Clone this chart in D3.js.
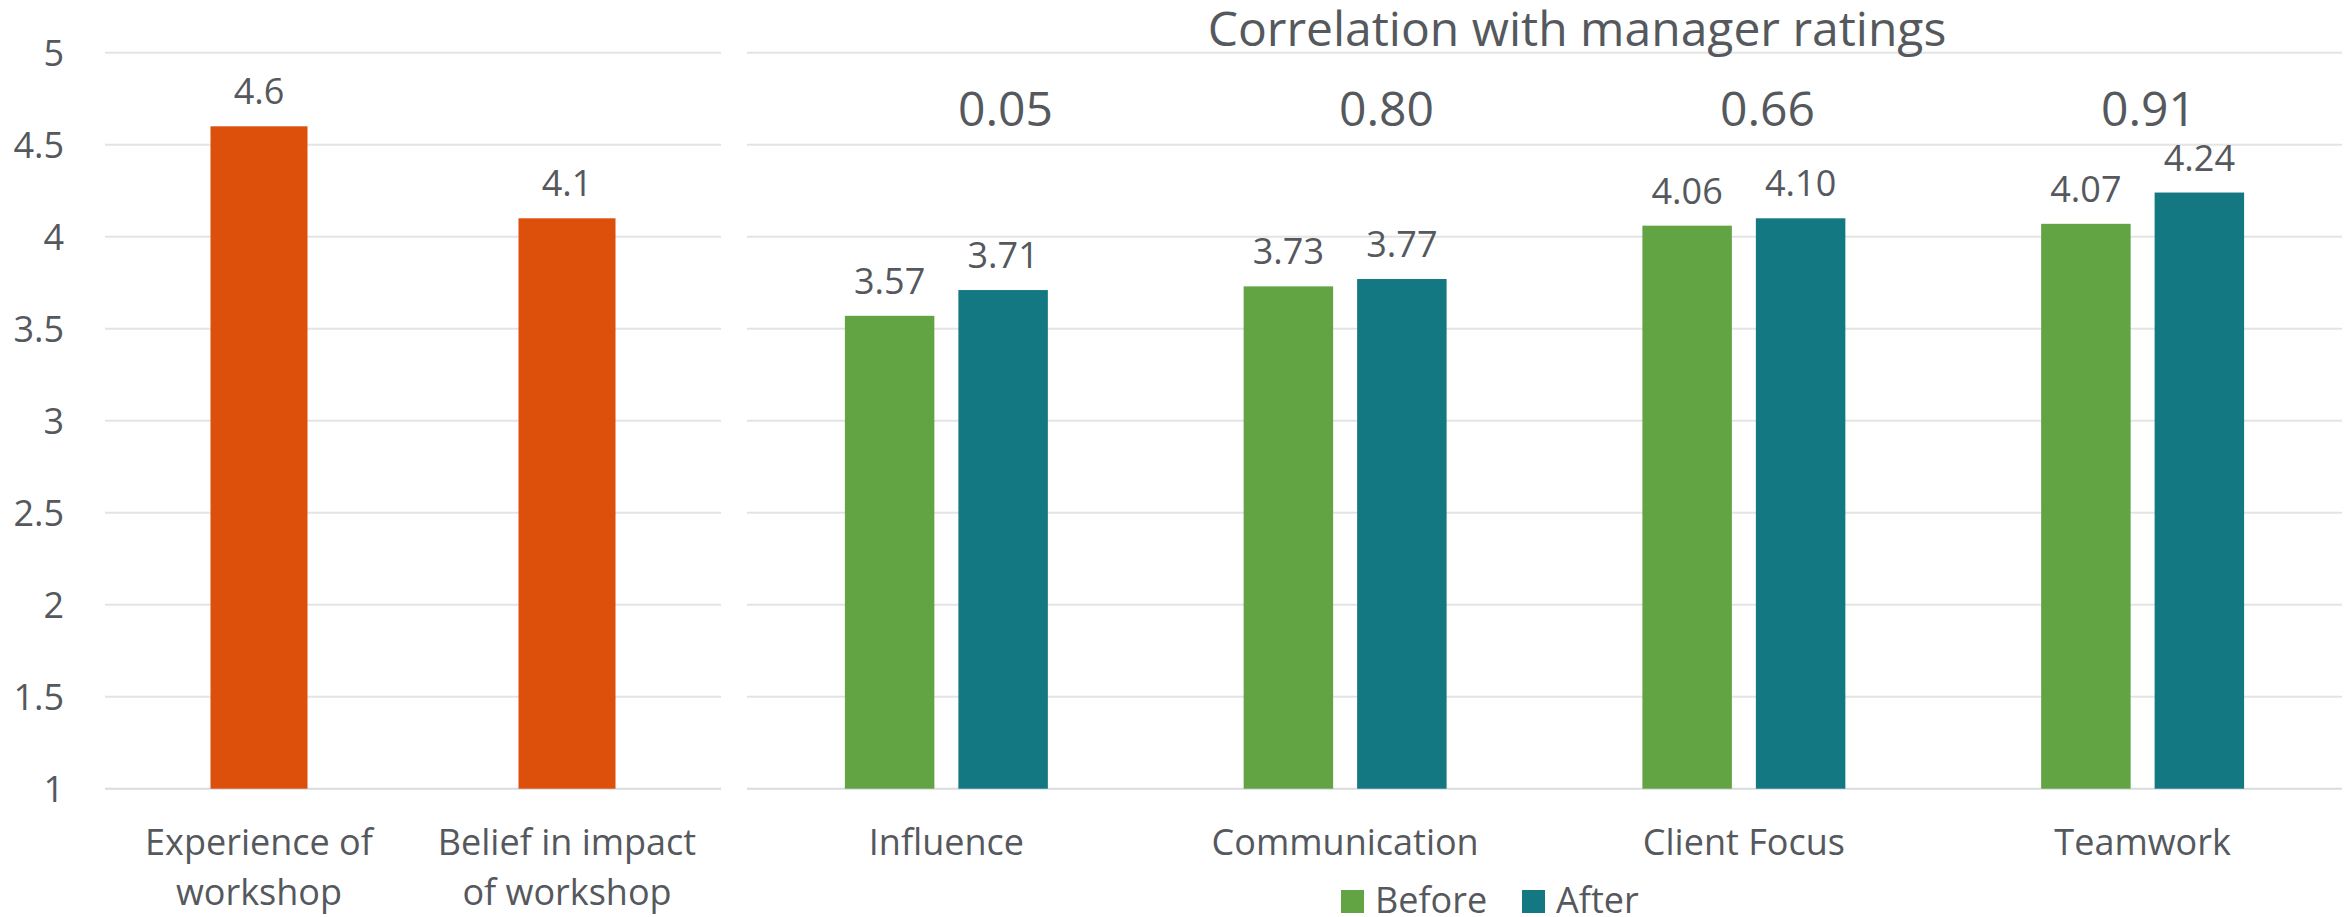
<!DOCTYPE html>
<html>
<head>
<meta charset="utf-8">
<script src="https://cdn.jsdelivr.net/npm/d3@7"></script>
<style>
  html, body { margin: 0; padding: 0; background: #ffffff; }
  svg { display: block; }
  text { font-family: "Open Sans", "Noto Sans", sans-serif; fill: #55585d; }
</style>
</head>
<body>
<svg id="chart" width="2351" height="917"></svg>
<script>
// Workshop feedback (left panel)
const workshopCategories = [["Experience of", "workshop"], ["Belief in impact", "of workshop"]];
const workshopValues = [4.6, 4.1];

// Competency ratings before / after (right panel)
const skillCategories = ["Influence", "Communication", "Client Focus", "Teamwork"];
const seriesNames = ["Before", "After"];
const beforeValues = [3.57, 3.73, 4.06, 4.07];
const afterValues = [3.71, 3.77, 4.10, 4.24];
const correlations = [0.05, 0.80, 0.66, 0.91];
const correlationTitle = "Correlation with manager ratings";

// Axis ticks
const yTicks = [1, 1.5, 2, 2.5, 3, 3.5, 4, 4.5, 5];

const colors = { workshop: "#dd500c", Before: "#62a443", After: "#137882" };

const svg = d3.select("#chart");

const y = d3.scaleLinear().domain([1, 5]).range([788.7, 52.7]);

const leftRange = [105, 721];
const rightRange = [747, 2342];

// Gridlines for each panel
const grid = svg.append("g");
[leftRange, rightRange].forEach(r => {
  grid.selectAll(null).data(yTicks).enter().append("line")
    .attr("x1", r[0]).attr("x2", r[1])
    .attr("y1", d => y(d)).attr("y2", d => y(d))
    .attr("stroke", d => d === 1 ? "#d9dbdc" : "#e4e4e4")
    .attr("stroke-width", 2);
});

// Y axis labels
const yAxis = d3.axisLeft(y).tickValues(yTicks).tickSize(0).tickPadding(0).tickFormat(d => String(d));
const yAxisG = svg.append("g").attr("transform", "translate(64,0)").call(yAxis);
yAxisG.select(".domain").remove();
yAxisG.selectAll("text")
  .attr("font-size", 36).attr("font-family", "Open Sans")
  .attr("fill", "#55585d").attr("dy", "0.35em");

// Left panel bars
const xLeft = d3.scaleBand().domain(d3.range(workshopValues.length)).range(leftRange).padding(0);
const leftBarW = xLeft.bandwidth() * 0.315;
const leftG = svg.append("g");
leftG.selectAll("rect").data(workshopValues).enter().append("rect")
  .attr("x", (d, i) => xLeft(i) + xLeft.bandwidth() / 2 - leftBarW / 2)
  .attr("y", d => y(d))
  .attr("width", leftBarW)
  .attr("height", d => y(1) - y(d))
  .attr("fill", colors.workshop);
leftG.selectAll("text.val").data(workshopValues).enter().append("text")
  .attr("class", "val")
  .attr("x", (d, i) => xLeft(i) + xLeft.bandwidth() / 2)
  .attr("y", d => y(d) - 22)
  .attr("text-anchor", "middle").attr("font-size", 36)
  .text(d => d3.format(".1f")(d));
workshopCategories.forEach((lines, i) => {
  const t = leftG.append("text")
    .attr("text-anchor", "middle").attr("font-size", 36)
    .attr("x", xLeft(i) + xLeft.bandwidth() / 2).attr("y", 855);
  lines.forEach((ln, k) => {
    t.append("tspan").attr("x", xLeft(i) + xLeft.bandwidth() / 2).attr("y", 855 + k * 50).text(ln);
  });
});

// Right panel grouped bars
const xRight = d3.scaleBand().domain(skillCategories).range(rightRange).padding(0);
const groupW = xRight.bandwidth() * 0.509;
const xInner = d3.scaleBand().domain(seriesNames).range([0, groupW]).paddingInner(0.2115).paddingOuter(0);
const rows = skillCategories.map((c, i) => ({ cat: c, Before: beforeValues[i], After: afterValues[i] }));

const rightG = svg.append("g");
const groups = rightG.selectAll("g.grp").data(rows).enter().append("g")
  .attr("class", "grp")
  .attr("transform", d => `translate(${xRight(d.cat) + xRight.bandwidth() / 2 - groupW / 2},0)`);
groups.selectAll("rect").data(d => seriesNames.map(s => ({ s, v: d[s] }))).enter().append("rect")
  .attr("x", d => xInner(d.s))
  .attr("y", d => y(d.v))
  .attr("width", xInner.bandwidth())
  .attr("height", d => y(1) - y(d.v))
  .attr("fill", d => colors[d.s]);
groups.selectAll("text").data(d => seriesNames.map(s => ({ s, v: d[s] }))).enter().append("text")
  .attr("x", d => xInner(d.s) + xInner.bandwidth() / 2)
  .attr("y", d => y(d.v) - 22)
  .attr("text-anchor", "middle").attr("font-size", 36)
  .text(d => d3.format(".2f")(d.v));

const xAxisRight = d3.axisBottom(xRight).tickSize(0).tickPadding(0);
const xAxisG = rightG.append("g").attr("transform", "translate(0,855)").call(xAxisRight);
xAxisG.select(".domain").remove();
xAxisG.selectAll("text")
  .attr("font-size", 36).attr("font-family", "Open Sans")
  .attr("fill", "#55585d").attr("dy", 0).attr("y", 0);

// Correlation row and its heading
const xCorr = d3.scaleBand().domain(skillCategories).range([815, 2339]).padding(0);
svg.append("text")
  .attr("x", (815 + 2339) / 2).attr("y", 46)
  .attr("text-anchor", "middle").attr("font-size", 48)
  .text(correlationTitle);
svg.append("g").selectAll("text").data(correlations).enter().append("text")
  .attr("x", (d, i) => xCorr(skillCategories[i]) + xCorr.bandwidth() / 2)
  .attr("y", 125.5)
  .attr("text-anchor", "middle").attr("font-size", 48)
  .text(d => d3.format(".2f")(d));

// Legend
const legend = svg.append("g");
const legendItems = [{ s: "Before", x: 1341 }, { s: "After", x: 1522 }];
legendItems.forEach(it => {
  legend.append("rect").attr("x", it.x).attr("y", 890).attr("width", 23).attr("height", 23).attr("fill", colors[it.s]);
  legend.append("text").attr("x", it.x + 34).attr("y", 913).attr("font-size", 36).text(it.s);
});
</script>
</body>
</html>
